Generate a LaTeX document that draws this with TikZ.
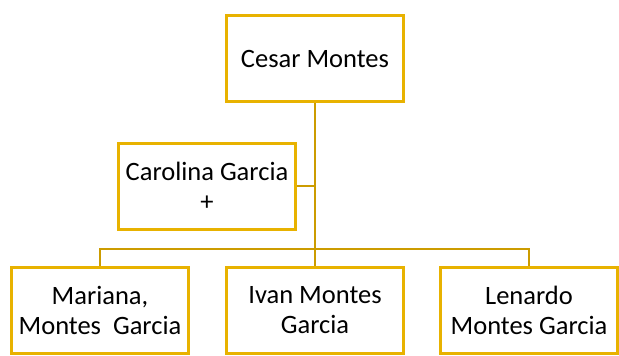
\documentclass[tikz,border=0pt]{standalone}
\usepackage{fontspec}
\setmainfont{Carlito}
\definecolor{boxgold}{RGB}{232,178,0}
\definecolor{linegold}{RGB}{204,156,0}
\begin{document}
\begin{tikzpicture}[x=1pt,y=-1pt,
  person/.style={draw=boxgold, line width=3pt, fill=white, rectangle,
    minimum width=177pt, minimum height=86pt, inner sep=0pt, align=center,
    font=\fontsize{26.5}{30}\selectfont},
  conn/.style={draw=linegold, line width=2pt}]
\useasboundingbox (0,0) rectangle (619,356);
\node[person] (top) at (315,58.5) {Cesar Montes};
\node[person] (car) at (207,186) {Carolina Garcia\\+};
\node[person] (left) at (100,310) {Mariana,\\Montes\ \ Garcia};
\node[person] (mid) at (315,310) {Ivan Montes\\Garcia};
\node[person] (right) at (529,310) {Lenardo\\Montes Garcia};
\coordinate (bus) at (315,249);
\draw[conn] (top.south) -- (bus);
\draw[conn] (car.east) -- (car.east -| bus);
\draw[conn] (left.north) |- (bus) -| (right.north);
\draw[conn] (mid.north) -- (bus);
\end{tikzpicture}
\end{document}
